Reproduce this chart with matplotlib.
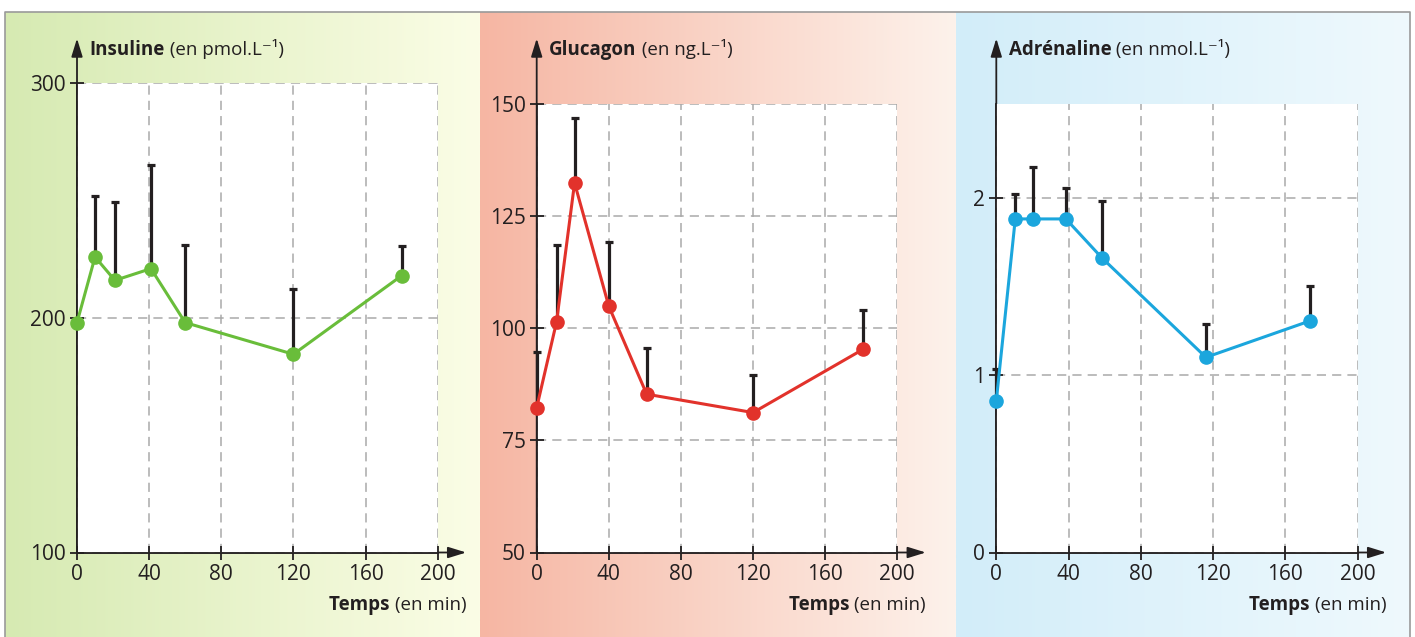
import numpy as np
import matplotlib.pyplot as plt

plt.rcParams['font.family'] = ['Open Sans', 'DejaVu Sans']

# data
ins_t = [0, 10, 21, 41, 60, 120, 180]
ins_val = [198, 226, 216, 221, 198, 184.5, 218]
ins_top = [np.nan, 252, 249.5, 265, 231, 212.5, 230.5]

glu_t = [0, 11, 21, 40, 61, 120, 181]
glu_val = [82.3, 101.4, 132.4, 104.9, 85.3, 81.2, 95.3]
glu_top = [94.6, 118.5, 146.8, 119.3, 95.5, 89.5, 104.0]

adr_t = [0, 10.5, 20.5, 38.5, 58.5, 116, 173.5]
adr_val = [0.855, 1.88, 1.88, 1.88, 1.66, 1.10, 1.305]
adr_top = [1.035, 2.02, 2.17, 2.055, 1.98, 1.29, 1.50]

x_ticks = [0, 40, 80, 120, 160, 200]

W, H = 1415, 637
fig = plt.figure(figsize=(W / 100, H / 100), dpi=100)
INK = '#231f20'

# background panels (pixel coordinates)
bg = fig.add_axes([0, 0, 1, 1], zorder=0)
bg.set_xlim(0, W)
bg.set_ylim(H, 0)
bg.axis('off')

def gradient(c0, c1, n=256):
    c0 = np.array(plt.matplotlib.colors.to_rgb(c0))
    c1 = np.array(plt.matplotlib.colors.to_rgb(c1))
    f = np.linspace(0, 1, n)[None, :, None]
    return c0 + (c1 - c0) * f

bg.imshow(gradient('#d6eab2', '#fbfde6'), extent=(5, 480, H, 12), aspect='auto')
bg.imshow(gradient('#f6b6a3', '#fdf2eb'), extent=(480, 956, H, 12), aspect='auto')
bg.imshow(gradient('#d2edf9', '#eff9fd'), extent=(956, 1410, H, 12), aspect='auto')
bg.plot([5, 5, 1410, 1410], [H, 12, 12, H], color='#9a9a9a', lw=1.2)
bg.set_xlim(0, W)
bg.set_ylim(H, 0)

panels = [
    dict(t=ins_t, v=ins_val, top=ins_top, color='#69bd3a', x0=77, x1=437.7,
         ytop=83.3, ylim=(100, 300), yticks=[100, 200, 300],
         name='Insuline', unit=' (en pmol.L⁻¹)'),
    dict(t=glu_t, v=glu_val, top=glu_top, color='#e2322b', x0=536.7, x1=897.3,
         ytop=104, ylim=(50, 150), yticks=[50, 75, 100, 125, 150],
         name='Glucagon', unit=' (en ng.L⁻¹)'),
    dict(t=adr_t, v=adr_val, top=adr_top, color='#1ba6dd', x0=996.3, x1=1357.7,
         ytop=103.6, ylim=(0, 2.53), yticks=[0, 1, 2],
         name='Adrénaline', unit=' (en nmol.L⁻¹)'),
]
ybot = 552.5

texts = []
for p in panels:
    ax = fig.add_axes([p['x0'] / W, 1 - ybot / H, (p['x1'] - p['x0']) / W,
                       (ybot - p['ytop']) / H], zorder=2)
    ax.set_facecolor('white')
    ax.set_xlim(0, 200)
    ax.set_ylim(*p['ylim'])
    ax.set_xticks(x_ticks)
    ax.set_yticks(p['yticks'])
    for s in ['top', 'right']:
        ax.spines[s].set_visible(False)
    for s in ['left', 'bottom']:
        ax.spines[s].set_color(INK)
        ax.spines[s].set_linewidth(1.3)
    ax.tick_params(direction='inout', length=10, width=1.3, color=INK,
                   labelsize=15, labelcolor=INK, pad=3)
    ax.grid(True, color='#a9a9a9', lw=1.1, linestyle=(0, (6, 4)))
    ax.set_axisbelow(True)

    t = np.array(p['t'], float)
    v = np.array(p['v'], float)
    top = np.array(p['top'], float)
    ok = ~np.isnan(top)
    ax.errorbar(t[ok], v[ok], yerr=[np.zeros(ok.sum()), top[ok] - v[ok]],
                fmt='none', ecolor=INK, elinewidth=2.3, capsize=3, capthick=2.3,
                zorder=3, clip_on=False)
    ax.plot(t, v, color=p['color'], lw=2.2, marker='o', markersize=9.5,
            zorder=4, clip_on=False)

    # axis arrows
    bg.annotate('', xy=(p['x0'], 38.5), xytext=(p['x0'], ybot),
                arrowprops=dict(arrowstyle='-|>,head_length=0.55,head_width=0.17',
                                color=INK, lw=1.3, mutation_scale=20,
                                shrinkA=0, shrinkB=0))
    xtip = p['x1'] + 28.5
    bg.annotate('', xy=(xtip, ybot), xytext=(p['x0'], ybot),
                arrowprops=dict(arrowstyle='-|>,head_length=0.55,head_width=0.17',
                                color=INK, lw=1.3, mutation_scale=20,
                                shrinkA=0, shrinkB=0))
    texts.append((p, xtip))

fig.canvas.draw()
r = fig.canvas.get_renderer()
for p, xtip in texts:
    tx = fig.text((p['x0'] + 12.5) / W, 1 - 55 / H, p['name'], weight='bold',
                  fontsize=13.5, color=INK, va='baseline')
    bb = tx.get_window_extent(r)
    fig.text(bb.x1 / W, 1 - 55 / H, p['unit'], fontsize=13.5, color=INK,
             va='baseline')
    lab = fig.text(xtip / W, 1 - 610 / H, '(en min)', fontsize=13.5, color=INK,
                   va='baseline', ha='right')
    bb = lab.get_window_extent(r)
    fig.text(bb.x0 / W, 1 - 610 / H, 'Temps ', fontsize=13.5, color=INK,
             va='baseline', ha='right', weight='bold')

fig.savefig('out.png', dpi=100)
